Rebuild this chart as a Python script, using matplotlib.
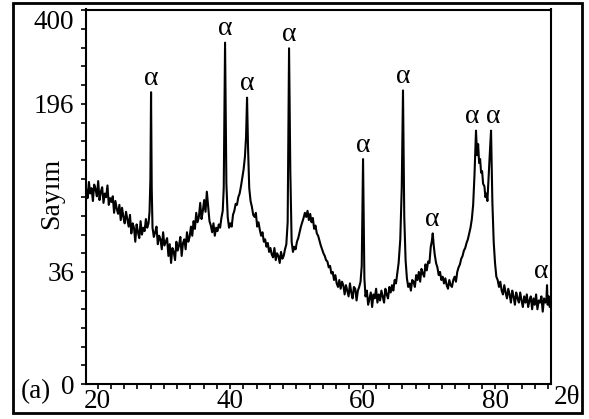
import numpy as np
import matplotlib.pyplot as plt
from matplotlib.patches import Rectangle

plt.rcParams['font.family'] = ['Liberation Serif', 'DejaVu Serif']

# diffraction scan: 2-theta (deg) and counts
two_theta = [
    18.3, 18.5, 18.7, 18.9, 19.1, 19.3, 19.5, 19.7, 19.9, 20.1,
    20.3, 20.5, 20.7, 20.9, 21.1, 21.3, 21.5, 21.7, 21.9, 22.1,
    22.3, 22.5, 22.7, 22.9, 23.1, 23.3, 23.5, 23.7, 23.9, 24.1,
    24.3, 24.5, 24.7, 24.9, 25.1, 25.3, 25.5, 25.7, 25.9, 26.1,
    26.3, 26.5, 26.7, 26.9, 27.1, 27.3, 27.5, 27.7, 27.85,
    27.98, 28.08, 28.18,
    28.3, 28.5, 28.7, 28.9, 29.1, 29.3, 29.5, 29.7, 29.9, 30.1,
    30.3, 30.5, 30.7, 30.9, 31.1, 31.3, 31.5, 31.7, 31.9, 32.1,
    32.3, 32.5, 32.7, 32.9, 33.1, 33.3, 33.5, 33.7, 33.9, 34.1,
    34.3, 34.5, 34.7, 34.9, 35.1, 35.3, 35.5, 35.7, 35.9, 36.1,
    36.3, 36.5, 36.7, 36.9, 37.1, 37.3, 37.5, 37.7, 37.9, 38.1,
    38.3, 38.5, 38.7, 38.9, 39.05, 39.25, 39.45, 39.65, 39.85,
    40.05, 40.25, 40.45, 40.65, 40.85, 41.05, 41.25, 41.45, 41.65, 41.85,
    42.05, 42.25, 42.42, 42.57, 42.72, 42.9, 43.1, 43.3, 43.5, 43.7,
    43.9, 44.1, 44.3, 44.5, 44.7, 44.9, 45.1, 45.3, 45.5, 45.7,
    45.9, 46.1, 46.3, 46.5, 46.7, 46.9, 47.1, 47.3, 47.5, 47.7,
    47.9, 48.1, 48.3, 48.5, 48.7, 48.91, 49.1, 49.3,
    49.5, 49.7, 49.9, 50.1, 50.3, 50.5, 50.7, 50.9, 51.1, 51.3,
    51.5, 51.7, 51.9, 52.1, 52.3, 52.5, 52.7, 52.9, 53.1, 53.3,
    53.5, 53.7, 53.9, 54.1, 54.3, 54.5, 54.7, 54.9, 55.1, 55.3,
    55.5, 55.7, 55.9, 56.1, 56.3, 56.5, 56.7, 56.9, 57.1, 57.3,
    57.5, 57.7, 57.9, 58.1, 58.3, 58.5, 58.7, 58.9, 59.1, 59.3,
    59.5, 59.7, 59.88, 60.08, 60.28,
    60.45, 60.65, 60.85, 61.05, 61.25, 61.45, 61.65, 61.85, 62.05, 62.25,
    62.45, 62.65, 62.85, 63.05, 63.25, 63.45, 63.65, 63.85, 64.05, 64.25,
    64.45, 64.65, 64.85, 65.05, 65.25, 65.45, 65.7, 65.92, 66.11, 66.3,
    66.5, 66.7, 66.9, 67.1, 67.3, 67.5, 67.7, 67.9, 68.1, 68.3,
    68.5, 68.7, 68.9, 69.1, 69.3, 69.5, 69.7, 69.9, 70.1, 70.3,
    70.45, 70.6, 70.75, 70.9, 71.1, 71.3, 71.5, 71.7, 71.9, 72.1,
    72.3, 72.5, 72.7, 72.9, 73.1, 73.3, 73.5, 73.7, 73.9, 74.1,
    74.3, 74.5, 74.7, 74.9, 75.1, 75.3, 75.5, 75.7, 75.9, 76.1,
    76.3, 76.5, 76.7, 76.9, 77.13, 77.3, 77.45, 77.6, 77.75, 77.9,
    78.05, 78.2, 78.4, 78.55, 78.7, 78.85, 79.0, 79.2, 79.4, 79.6,
    79.8, 80.0, 80.2, 80.4, 80.6, 80.8, 81.0, 81.2, 81.4, 81.6,
    81.8, 82.0, 82.2, 82.4, 82.6, 82.8, 83.0, 83.2, 83.4, 83.6,
    83.8, 84.0, 84.2, 84.4, 84.6, 84.8, 85.0, 85.2, 85.4, 85.6,
    85.8, 86.0, 86.2, 86.4, 86.6, 86.8, 87.0, 87.2, 87.4, 87.6,
    87.75, 87.85, 87.95, 88.1, 88.25, 88.45,
]
counts = [
    108, 99, 117, 104, 110, 96, 114, 109, 101, 118,
    97, 106, 111, 94, 104, 100, 113, 92, 99, 95,
    101, 84, 96, 88, 83, 92, 77, 89, 80, 74,
    85, 78, 71, 82, 65, 74, 70, 58, 73, 66,
    61, 76, 64, 70, 67, 78, 70, 74, 85,
    120, 244, 110,
    70, 62, 66, 71, 56, 63, 60, 52, 66, 55,
    58, 61, 47, 56, 42, 53, 50, 44, 58, 51,
    55, 62, 47, 57, 60, 52, 66, 58, 62, 71,
    63, 76, 69, 84, 75, 80, 94, 78, 86, 97,
    85, 106, 90, 76, 72, 66, 74, 63, 70, 67,
    73, 70, 79, 86, 110, 334, 115, 80, 70,
    74, 71, 82, 86, 93, 92, 100, 104, 112, 122,
    132, 148, 175, 235, 160, 110, 96, 90, 82, 80,
    84, 71, 75, 68, 63, 66, 58, 60, 54, 57,
    50, 53, 48, 46, 53, 44, 49, 47, 42, 50,
    45, 47, 52, 56, 75, 323, 130, 58,
    50, 54, 52, 58, 61, 66, 71, 75, 79, 84,
    80, 86, 77, 83, 75, 79, 69, 72, 65, 63,
    59, 55, 52, 49, 47, 44, 43, 39, 40, 35,
    36, 31, 34, 29, 27, 31, 26, 30, 28, 23,
    28, 25, 22, 29, 24, 21, 27, 26, 20, 25,
    27, 30, 40, 145, 32,
    22, 25, 18, 21, 24, 17, 23, 21, 26, 19,
    23, 20, 25, 22, 19, 26, 23, 21, 27, 24,
    28, 25, 31, 29, 35, 42, 60, 110, 247, 80,
    44, 32, 27, 29, 25, 31, 30, 27, 34, 31,
    36, 30, 38, 35, 33, 41, 37, 43, 42, 54,
    58, 65, 55, 48, 42, 39, 34, 36, 31, 33,
    29, 32, 28, 26, 31, 28, 27, 31, 33, 30,
    36, 39, 41, 45, 47, 51, 53, 57, 60, 65,
    70, 78, 92, 125, 184, 150, 165, 140, 145, 128,
    130, 115, 112, 100, 104, 96, 118, 150, 184, 95,
    58, 42, 33, 31, 27, 30, 25, 23, 28, 24,
    21, 26, 23, 19, 25, 22, 18, 24, 21, 19,
    24, 20, 17, 22, 19, 23, 17, 20, 22, 16,
    21, 18, 23, 16, 20, 19, 22, 15, 21, 19,
    20, 28, 18, 22, 17, 21,
]

# reflections marked with alpha
alpha_peaks = [28.08, 39.25, 42.57, 48.91, 60.08, 66.11, 70.6, 77.13, 79.4, 87.85]
alpha_nudge = [0, 0, 0, 0, 0, 0, 0, -4, 2, -6]   # horizontal shift of the symbol, px

fig = plt.figure(figsize=(5.89, 4.19), dpi=100)
ax = fig.add_axes([86 / 589, 1 - 384 / 419, 465 / 589, 374.5 / 419])

ax.plot(two_theta, counts, color='black', lw=1.5)

ax.set_yscale('function', functions=(lambda v: np.sqrt(np.clip(v, 0, None)), np.square))
ax.set_xlim(18.26, 88.45)
ax.set_ylim(0, 402)

for x0, dx in zip(alpha_peaks, alpha_nudge):
    top = np.interp(x0, two_theta, counts)
    ax.annotate('α', (x0, top), xytext=(dx * 0.72, 10), textcoords='offset points',
                ha='center', va='center', fontsize=20)

ax.set_xticks([20, 40, 60, 80])
ax.set_xticks(np.arange(20, 89, 2), minor=True)
ax.set_yticks([0, 36, 225, 400])
ax.set_yticklabels(['0', '36', '196', '400'])
ax.set_yticks([k * k for k in range(21)], minor=True)
ax.tick_params(which='both', direction='out', length=3.5, width=1.2,
               labelsize=19.5, top=False, right=False)
ax.tick_params(axis='x', pad=0)
ax.tick_params(axis='y', pad=5)
ax.get_yticklabels()[-1].set_verticalalignment('top')

for s in ax.spines.values():
    s.set_linewidth(1.5)

fig.text(52 / 589, 1 - 193 / 419, 'Sayım', rotation=90, ha='center', va='center', fontsize=20)
fig.text(36 / 589, 1 - 392 / 419, '(a)', ha='center', va='center', fontsize=19.5)
fig.text(567 / 589, 1 - 397 / 419, '2θ', ha='center', va='center', fontsize=19.5)

fig.patches.append(Rectangle((13 / 589, 1 - 413 / 419), 569 / 589, 410 / 419,
                             transform=fig.transFigure, fill=False, lw=2, ec='black'))

fig.savefig('out.png', dpi=100)
